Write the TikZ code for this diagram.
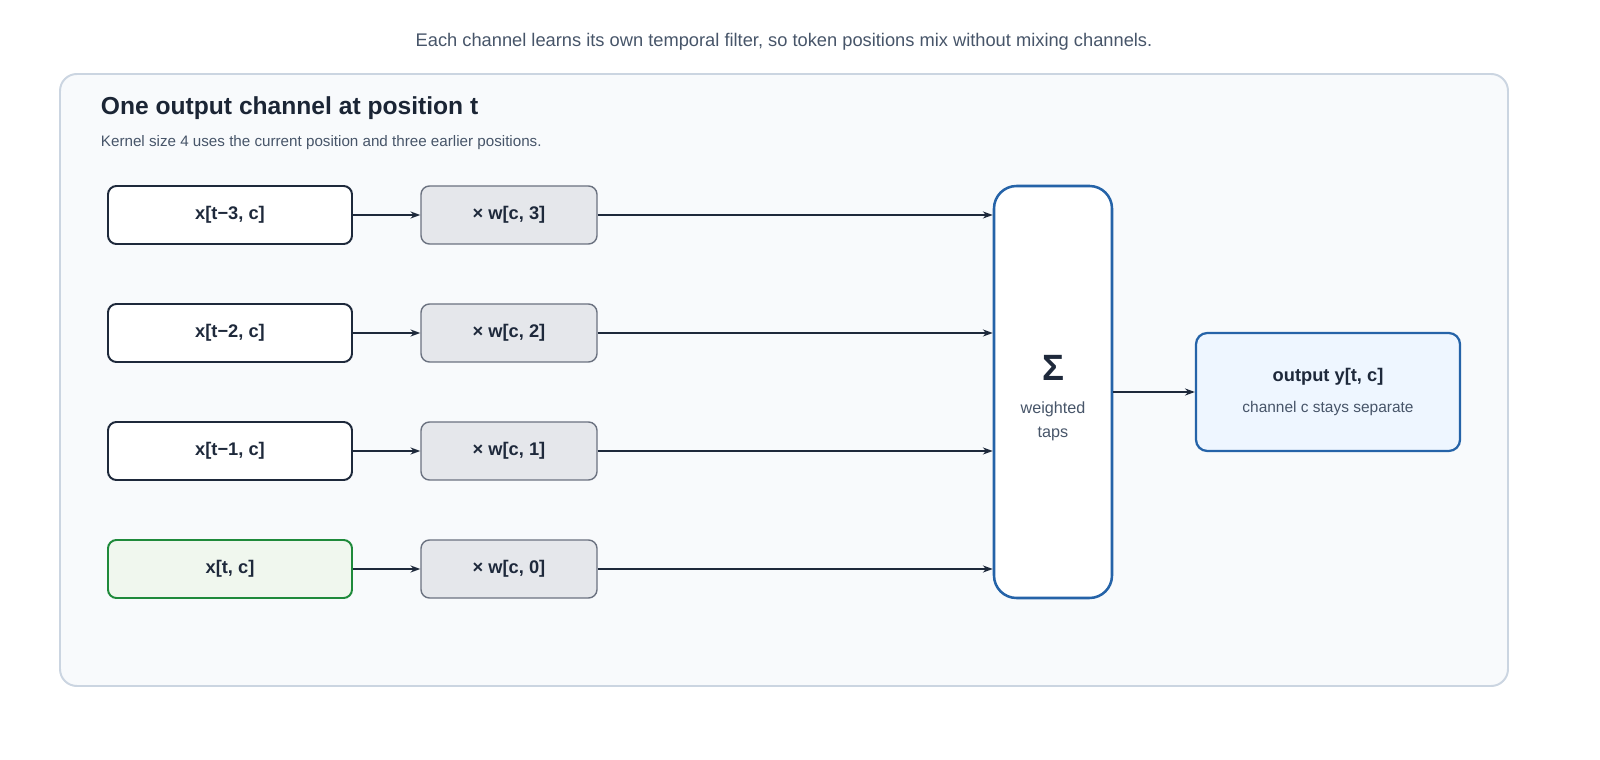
\documentclass[tikz,border=0pt]{standalone}
\usepackage{fontspec}
\setmainfont{Liberation Sans}
\usetikzlibrary{positioning, arrows.meta}
\definecolor{ink}{HTML}{1E293B}
\definecolor{muted}{HTML}{475569}
\definecolor{panelbg}{HTML}{F8FAFC}
\definecolor{panelline}{HTML}{CBD5E1}
\definecolor{wfill}{HTML}{E5E7EB}
\definecolor{wline}{HTML}{6B7280}
\definecolor{sumblue}{HTML}{2563A8}
\definecolor{outfill}{HTML}{EEF6FF}
\definecolor{curline}{HTML}{1F8A3B}
\definecolor{curfill}{HTML}{F0F7EE}
\newlength{\px}
\setlength{\px}{0.025cm}
\tikzset{
  inbox/.style={draw=ink, fill=white, line width=1.4pt, rounded corners=6pt,
    minimum width=244\px, minimum height=58\px, font=\fontsize{13}{15}\selectfont\bfseries, text=ink},
  curbox/.style={inbox, draw=curline, fill=curfill},
  wbox/.style={draw=wline, fill=wfill, line width=1pt, rounded corners=6pt,
    minimum width=176\px, minimum height=58\px, font=\fontsize{13}{15}\selectfont\bfseries, text=ink},
  tap/.style={-{Stealth[length=7pt,width=5pt]}, line width=1.4pt, draw=ink}
}
\begin{document}
\begin{tikzpicture}[x=0.025cm, y=-0.025cm]
  \useasboundingbox (0,0) rectangle (1600,760);
  % caption and panel
  \node[text=muted, font=\fontsize{13}{15}\selectfont] (cap) at (784,42)
    {Each channel learns its own temporal filter, so token positions mix without mixing channels.};
  \draw[draw=panelline, fill=panelbg, line width=1.4pt, rounded corners=12pt] (60,74) rectangle (1508,686);
  \node[anchor=west, text=ink!90!black, font=\fontsize{17.5}{20}\selectfont\bfseries] (title) at (96,108)
    {One output channel at position t};
  \node[anchor=west, text=muted, font=\fontsize{10.8}{13}\selectfont] (sub) at (96,143)
    {Kernel size 4 uses the current position and three earlier positions.};
  % sum and output
  \node[draw=sumblue, fill=white, line width=1.8pt, rounded corners=16pt,
    minimum width=118\px, minimum height=412\px] (sum) at (1053,392) {};
  \node[text=ink, font=\fontsize{26}{28}\selectfont\bfseries] (sig) at (1053,368) {Σ};
  \node[text=muted, align=center, font=\fontsize{11.5}{17}\selectfont] (sumtxt) at (1053,421) {weighted\\taps};
  \node[draw=sumblue, fill=outfill, line width=1.6pt, rounded corners=8pt,
    minimum width=264\px, minimum height=118\px] (out) at (1328,392) {};
  \node[text=ink, font=\fontsize{13}{15}\selectfont\bfseries] (outt) at (1328,377) {output y[t, c]};
  \node[text=muted, font=\fontsize{11}{13}\selectfont] (outs) at (1328,409) {channel c stays separate};
  \draw[tap] (sum.east) -- (out.west);
  % taps
  \foreach \k/\lab/\y/\st in {3/{x[t−3, c]}/215/inbox, 2/{x[t−2, c]}/333/inbox,
                             1/{x[t−1, c]}/451/inbox, 0/{x[t, c]}/569/curbox}{
    \node[\st] (in\k) at (230,\y) {\lab};
    \node[wbox] (w\k) at (509,\y) {× w[c, \k]};
    \coordinate (s\k) at (sum.west |- w\k);
    \draw[tap] (in\k) -- (w\k);
    \draw[tap] (w\k) -- (s\k);
  }
\end{tikzpicture}
\end{document}
